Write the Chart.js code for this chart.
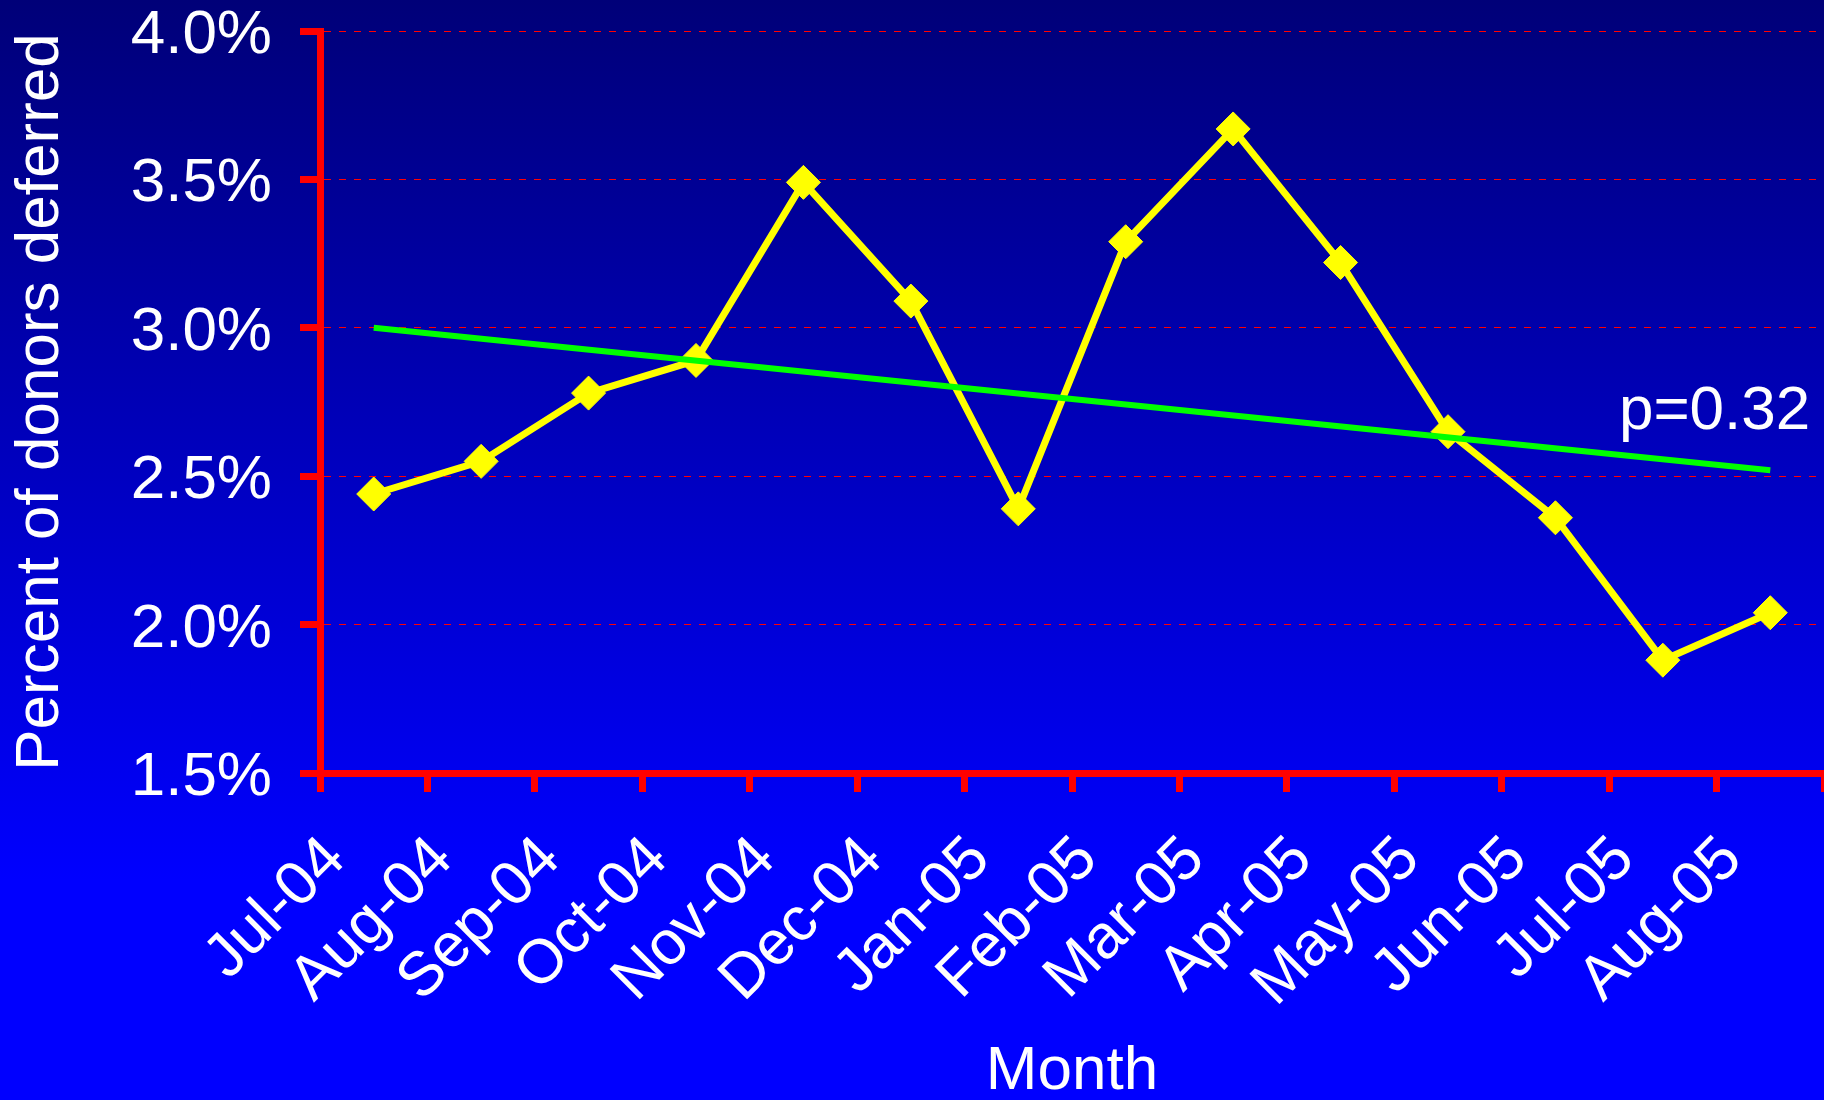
<!DOCTYPE html>
<html>
<head>
<meta charset="utf-8">
<title>Percent of donors deferred</title>
<script src="https://cdn.jsdelivr.net/npm/chart.js@4.4.1/dist/chart.umd.min.js"></script>
<style>
  html, body { margin: 0; padding: 0; }
  body {
    width: 1824px;
    height: 1100px;
    overflow: hidden;
    background: linear-gradient(to bottom, #000078 0px, #0000ff 880px, #0000ff 1100px);
  }
  canvas { display: block; }
</style>
</head>
<body>
<canvas id="chart" width="1824" height="1100"></canvas>
<script>
// data
const months = ['Jul-04', 'Aug-04', 'Sep-04', 'Oct-04', 'Nov-04', 'Dec-04', 'Jan-05',
                'Feb-05', 'Mar-05', 'Apr-05', 'May-05', 'Jun-05', 'Jul-05', 'Aug-05'];
const deferredPct = [2.44, 2.55, 2.78, 2.89, 3.49, 3.09, 2.39, 3.29, 3.67, 3.22, 2.65, 2.36, 1.88, 2.04];
// linear trend, only the two ends are given, the line spans between them
const trendPct = [3.00, null, null, null, null, null, null, null, null, null, null, null, null, 2.52];
const yTicks = [1.5, 2.0, 2.5, 3.0, 3.5, 4.0];
const pValueText = 'p=0.32';

const FONT = '"Liberation Sans", Arial, sans-serif';
const FONT_SIZE = 62;
const RED = '#ff0000';

const pValueLabel = {
  id: 'pValueLabel',
  afterDatasetsDraw(chart) {
    const { ctx, scales: { x, y } } = chart;
    const last = months.length - 1;
    ctx.save();
    ctx.font = FONT_SIZE + 'px ' + FONT;
    ctx.fillStyle = '#ffffff';
    ctx.textAlign = 'right';
    ctx.textBaseline = 'alphabetic';
    ctx.fillText(pValueText, x.getPixelForValue(last) + 40, y.getPixelForValue(trendPct[last]) - 41);
    ctx.restore();
  }
};

new Chart(document.getElementById('chart'), {
  type: 'line',
  data: {
    labels: months,
    datasets: [
      {
        label: 'Trend',
        data: trendPct,
        borderColor: '#00ff00',
        borderWidth: 6,
        pointRadius: 0,
        spanGaps: true,
        tension: 0,
      },
      {
        label: 'Percent deferred',
        data: deferredPct,
        borderColor: '#ffff00',
        borderWidth: 7,
        backgroundColor: '#ffff00',
        pointStyle: 'rectRot',
        pointRadius: 17,
        pointBorderWidth: 1,
        pointBorderColor: '#ffff00',
        pointBackgroundColor: '#ffff00',
        tension: 0,
      },
    ],
  },
  options: {
    responsive: false,
    animation: false,
    devicePixelRatio: 1,
    layout: {
      padding: { top: 31, right: 0, bottom: 0, left: 0 },
      autoPadding: false,
    },
    plugins: {
      legend: { display: false },
      tooltip: { enabled: false },
    },
    scales: {
      x: {
        offset: true,
        grid: {
          offset: true,
          drawOnChartArea: false,
          drawTicks: true,
          tickLength: 19,
          tickWidth: 7,
          tickColor: RED,
        },
        border: { display: true, color: RED, width: 7 },
        ticks: {
          autoSkip: false,
          minRotation: 45,
          maxRotation: 45,
          labelOffset: -38,
          padding: 31,
          color: '#ffffff',
          font: { family: FONT, size: FONT_SIZE },
        },
        title: {
          display: true,
          text: 'Month',
          color: '#ffffff',
          font: { family: FONT, size: FONT_SIZE },
          padding: { top: 0, bottom: -9 },
        },
        afterFit(scale) {
          scale.height = 327;
          scale.paddingLeft = 0;
          scale.paddingRight = 0;
        },
      },
      y: {
        min: yTicks[0],
        max: yTicks[yTicks.length - 1],
        afterBuildTicks(scale) {
          scale.ticks = yTicks.map(v => ({ value: v }));
        },
        grid: {
          color: RED,
          lineWidth: 1,
          drawTicks: true,
          tickLength: 20,
          tickWidth: 7,
          tickColor: RED,
          tickBorderDash: [],
        },
        border: { display: true, color: RED, width: 7, dash: [7, 8] },
        ticks: {
          padding: 28,
          labelOffset: 5,
          color: '#ffffff',
          font: { family: FONT, size: FONT_SIZE },
          callback: v => v.toFixed(1) + '%',
        },
        title: {
          display: true,
          text: 'Percent of donors deferred',
          color: '#ffffff',
          font: { family: FONT, size: FONT_SIZE },
          padding: { top: 4, bottom: 4 },
        },
        afterFit(scale) {
          scale.width = 320;
          scale.paddingTop = 0;
          scale.paddingBottom = 0;
        },
      },
    },
  },
  plugins: [pValueLabel],
});
</script>
</body>
</html>
